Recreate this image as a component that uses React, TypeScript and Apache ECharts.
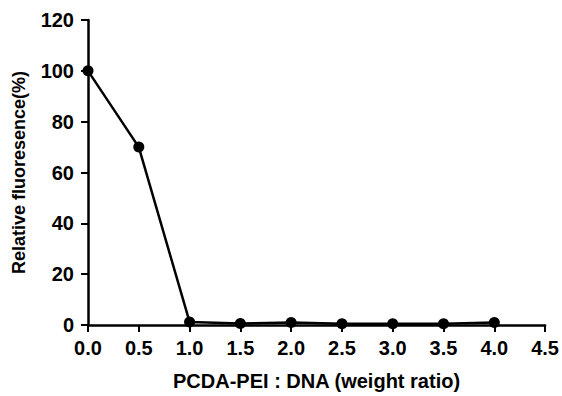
import React, { useEffect, useRef } from "react";
import * as echarts from "echarts";

const ratios = [0, 0.5, 1.0, 1.5, 2.0, 2.5, 3.0, 3.5, 4.0];
const fluorescence = [100, 70, 1.2, 0.6, 1.0, 0.5, 0.5, 0.5, 1.0];
const xTitle = "PCDA-PEI : DNA (weight ratio)";
const yTitle = "Relative fluoresence(%)";

export default function App() {
  const ref = useRef<HTMLDivElement>(null);
  useEffect(() => {
    if (!ref.current) return;
    document.body.style.margin = "0";
    const chart = echarts.init(ref.current, null, { renderer: "svg" });
    const font = "Liberation Sans, Arial, sans-serif";
    chart.setOption({
      animation: false,
      backgroundColor: "#ffffff",
      grid: { left: 88, right: 16, top: 20, bottom: 70 },
      xAxis: {
        type: "value",
        min: 0,
        max: 4.5,
        interval: 0.5,
        name: xTitle,
        nameLocation: "middle",
        nameGap: 46,
        nameTextStyle: { fontFamily: font, fontWeight: "bold", fontSize: 20, color: "#000" },
        axisLine: { show: true, onZero: false, lineStyle: { color: "#000", width: 2.5 } },
        axisTick: { show: true, inside: false, length: 7, lineStyle: { color: "#000", width: 2 } },
        axisLabel: {
          margin: 13,
          fontFamily: font,
          fontWeight: "bold",
          fontSize: 20,
          color: "#000",
          formatter: (v: number) => v.toFixed(1),
        },
        splitLine: { show: false },
      },
      yAxis: {
        type: "value",
        min: 0,
        max: 120,
        interval: 20,
        name: yTitle,
        nameLocation: "middle",
        nameGap: 60,
        nameRotate: 90,
        nameTextStyle: { fontFamily: font, fontWeight: "bold", fontSize: 18, color: "#000" },
        axisLine: { show: true, lineStyle: { color: "#000", width: 2.5 } },
        axisTick: { show: true, inside: false, length: 7, lineStyle: { color: "#000", width: 2 } },
        axisLabel: {
          margin: 14,
          fontFamily: font,
          fontWeight: "bold",
          fontSize: 20,
          color: "#000",
        },
        splitLine: { show: false },
      },
      series: [
        {
          type: "line",
          data: ratios.map((r, i) => [r, fluorescence[i]]),
          symbol: "circle",
          symbolSize: 11,
          lineStyle: { color: "#000", width: 2.5 },
          itemStyle: { color: "#000" },
          clip: false,
        },
      ],
    });
    return () => chart.dispose();
  }, []);
  return <div ref={ref} style={{ width: 562, height: 396 }} />;
}
